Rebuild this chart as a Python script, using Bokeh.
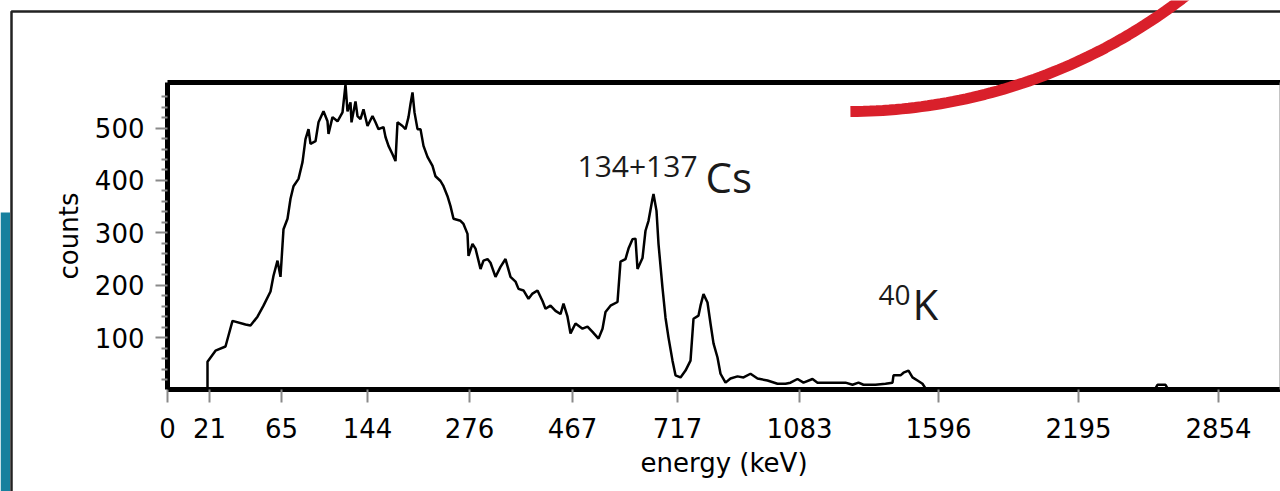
import numpy as np
from bokeh.plotting import figure
from bokeh.models import (FixedTicker, Range1d, Label, PolyAnnotation,
                          BoxAnnotation, LinearAxis)
from bokeh.embed import file_html
from bokeh.resources import INLINE

# ---- data (channel index along the detector axis, counts) ----
channel = [40, 40, 40, 48, 58, 61, 65, 78, 83, 90, 96, 103, 106, 110, 113, 116, 120,
           123, 126, 131, 135, 138, 141, 143, 148, 151, 156, 160, 161, 165, 170, 175,
           178, 180, 183, 184, 188, 190, 193, 196, 200, 205, 208, 211, 216, 218, 221,
           225, 228, 230, 235, 238, 241, 243, 245, 247, 250, 253, 256, 260, 265, 268,
           273, 276, 280, 283, 286, 293, 296, 300, 301, 305, 308, 311, 313, 316, 320,
           323, 328, 333, 338, 343, 348, 351, 356, 361, 365, 370, 375, 378, 383, 388,
           393, 396, 400, 403, 408, 415, 420, 425, 431, 435, 438, 443, 450, 453, 458,
           461, 465, 468, 470, 475, 478, 481, 485, 486, 489, 491, 495, 498, 501, 505,
           508, 513, 518, 523, 526, 531, 533, 536, 540, 543, 546, 550, 553, 558, 563,
           570, 576, 583, 590, 600, 610, 618, 623, 630, 636, 645, 650, 678, 685, 691,
           696, 708, 718, 725, 726, 733, 736, 741, 745, 750, 755, 758, 988, 990, 998,
           1000, 1113]
counts = [0, 0, 54, 75, 83, 104, 132, 125, 123, 140, 161, 188, 218, 247, 216, 307, 327,
          365, 389, 403, 435, 479, 498, 470, 475, 511, 532, 513, 489, 521, 513, 530,
          583, 532, 549, 511, 551, 523, 517, 536, 504, 523, 511, 498, 502, 483, 466,
          450, 437, 511, 504, 498, 521, 546, 568, 530, 498, 498, 466, 445, 428, 408,
          399, 389, 370, 351, 327, 323, 317, 298, 256, 279, 270, 247, 231, 247, 250,
          243, 216, 235, 250, 216, 207, 193, 190, 174, 184, 190, 170, 155, 161, 151,
          145, 165, 140, 108, 127, 117, 121, 111, 98, 117, 149, 161, 168, 245, 250,
          270, 288, 289, 231, 252, 304, 323, 365, 374, 342, 279, 195, 138, 100, 56,
          28, 24, 37, 56, 136, 142, 161, 183, 167, 127, 89, 62, 31, 14, 22, 26, 24,
          31, 22, 18, 12, 12, 14, 21, 14, 21, 14, 14, 10, 14, 10, 10, 12, 14, 28, 28,
          33, 37, 24, 18, 12, 3, 3, 10, 10, 3, 3]

tick_channels = [0, 42, 114, 200, 302, 405, 510, 632, 771, 911, 1051]
tick_labels = ["0", "21", "65", "144", "276", "467", "717", "1083", "1596", "2195", "2854"]
y_major = [100, 200, 300, 400, 500]
y_minor = [20, 40, 60, 80, 120, 140, 160, 180, 220, 240, 260, 280, 320, 340, 360, 380,
           420, 440, 460, 480, 520, 540, 560]
X_MAX = 1113   # last channel shown
Y_MAX = 588    # top of the counts axis

AX_FONT = "DejaVu Sans"
ANN_FONT = "Open Sans"

p = figure(width=1280, height=491, output_backend="svg", toolbar_location=None,
           x_range=Range1d(-167, 1113), y_range=Range1d(-193.8, 743.6))
p.min_border = 0
p.min_border_left = 0
p.min_border_right = 0
p.min_border_top = 0
p.min_border_bottom = 0
p.grid.visible = False
p.outline_line_color = None
p.background_fill_color = "white"
p.border_fill_color = "white"

# slide decorations (canvas units, drawn behind)
p.add_layout(BoxAnnotation(left=0, right=9.5, top=212, bottom=491,
                           left_units="canvas", right_units="canvas",
                           top_units="canvas", bottom_units="canvas",
                           fill_color="#17809e", fill_alpha=1, line_color=None,
                           level="underlay"))
p.add_layout(BoxAnnotation(left=11, right=1400, top=11, bottom=700,
                           left_units="canvas", right_units="canvas",
                           top_units="canvas", bottom_units="canvas",
                           fill_alpha=0, line_color="#222222", line_alpha=1,
                           line_width=2.5, level="underlay"))

p.line(channel, counts, line_color="black", line_width=2.5)

# x axis
xa = p.xaxis[0]
xa.fixed_location = 0
xa.bounds = (0, X_MAX)
xa.ticker = FixedTicker(ticks=tick_channels)
xa.major_label_overrides = {c: l for c, l in zip(tick_channels, tick_labels)}
xa.axis_line_width = 5
xa.axis_line_color = "black"
xa.major_tick_line_color = "#8a8a8a"
xa.major_tick_line_width = 2
xa.major_tick_in = 0
xa.major_tick_out = 13
xa.minor_tick_line_color = None
xa.major_label_text_font = AX_FONT
xa.major_label_text_font_size = "26px"
xa.major_label_text_color = "black"
xa.major_label_standoff = 15
xa.axis_label = "energy (keV)"
xa.axis_label_text_font = AX_FONT
xa.axis_label_text_font_style = "normal"
xa.axis_label_text_font_size = "26px"
xa.axis_label_text_color = "black"
xa.axis_label_standoff = 7

# y axis
ya = p.yaxis[0]
ya.fixed_location = 0
ya.bounds = (0, Y_MAX)
ya.ticker = FixedTicker(ticks=y_major, minor_ticks=y_minor)
ya.axis_line_width = 5
ya.axis_line_color = "black"
ya.major_tick_line_color = "#8a8a8a"
ya.major_tick_line_width = 2
ya.major_tick_in = 0
ya.major_tick_out = 12
ya.minor_tick_line_color = "#8a8a8a"
ya.minor_tick_line_width = 2
ya.minor_tick_in = 0
ya.minor_tick_out = 6
ya.major_label_text_font = AX_FONT
ya.major_label_text_font_size = "26px"
ya.major_label_text_color = "black"
ya.major_label_standoff = 11
ya.axis_label = "counts"
ya.axis_label_text_font = AX_FONT
ya.axis_label_text_font_style = "normal"
ya.axis_label_text_font_size = "26px"
ya.axis_label_text_color = "black"
ya.axis_label_standoff = 8

# top frame line and thin right edge
top = LinearAxis(ticker=FixedTicker(ticks=[]), fixed_location=Y_MAX, bounds=(0, X_MAX),
                 axis_line_width=5, axis_line_color="black",
                 major_tick_line_color=None, minor_tick_line_color=None)
p.add_layout(top, "above")
right = LinearAxis(ticker=FixedTicker(ticks=[]), fixed_location=X_MAX, bounds=(0, Y_MAX),
                   axis_line_width=2, axis_line_color="#8a8a8a",
                   major_tick_line_color=None, minor_tick_line_color=None)
p.add_layout(right, "right")

# annotations
for txt, x, y, size in [("134+137", 410, 427, "30px"), ("Cs", 538, 408, "42px"),
                        ("40", 711, 182, "28px"), ("K", 745, 166, "42px")]:
    p.add_layout(Label(x=x, y=y, text=txt, text_font=ANN_FONT, text_font_size=size,
                       text_color="#1a1a1a", text_baseline="alphabetic",
                       text_align="left"))

# red arc (slide decoration)
t = np.radians(np.linspace(89.8, 50, 60))
cx, cy, R = 848.0, -439.0, 550.0
ax = cx + R * np.cos(t)
ay = cy + R * np.sin(t)
p.add_layout(PolyAnnotation(xs=list(ax) + list(ax[::-1]), ys=list(ay) + list(ay[::-1]),
                            xs_units="canvas", ys_units="canvas",
                            fill_alpha=0, line_color="#d9202b", line_alpha=1,
                            line_width=11, line_join="bevel"))

open("out.html", "w").write(file_html(p, INLINE))
